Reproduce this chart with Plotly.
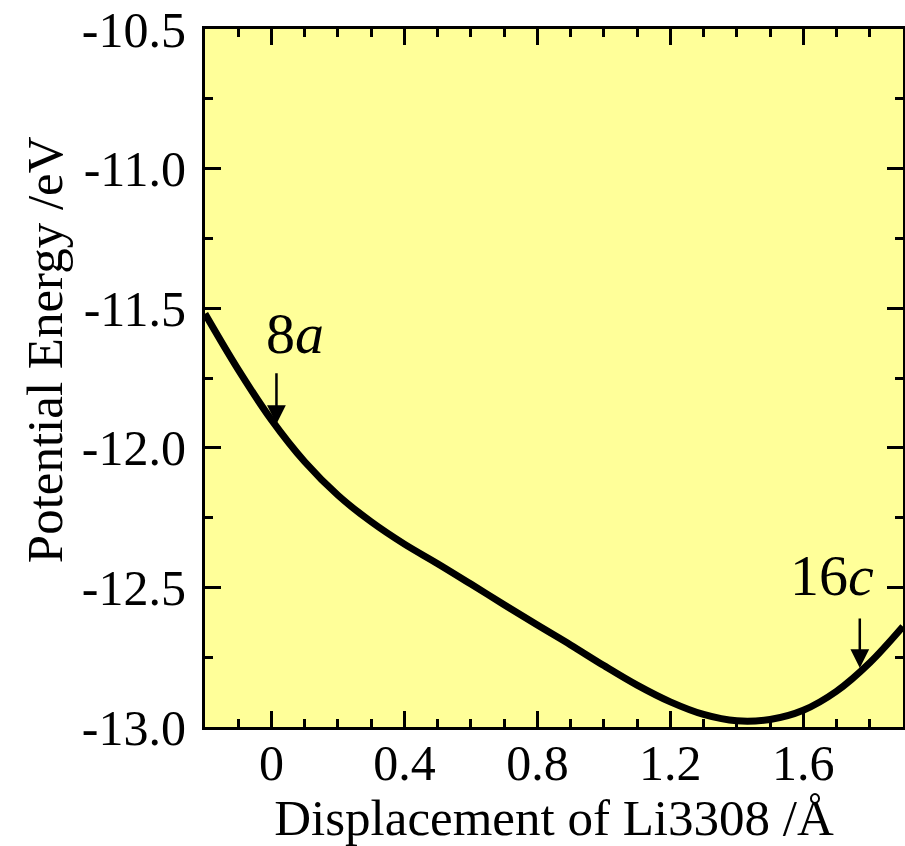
import plotly.graph_objects as go

# Data
displacement = [-0.2, -0.1, 0.0, 0.1, 0.2, 0.3, 0.4, 0.5, 0.6, 0.7, 0.8,
                0.9, 1.0, 1.1, 1.2, 1.3, 1.4, 1.5, 1.6, 1.7, 1.8, 1.9]
energy = [-11.52, -11.72, -11.90, -12.05, -12.17, -12.265, -12.345, -12.415, -12.488, -12.562, -12.635,
          -12.706, -12.78, -12.85, -12.91, -12.955, -12.978, -12.973, -12.940, -12.872, -12.770, -12.64]

x_tickvals = [0, 0.4, 0.8, 1.2, 1.6]
x_ticktext = ["0", "0.4", "0.8", "1.2", "1.6"]
y_tickvals = [-13.0, -12.5, -12.0, -11.5, -11.0, -10.5]
y_ticktext = ["-13.0", "-12.5", "-12.0", "-11.5", "-11.0", "-10.5"]

site_labels = ["8<i>a</i>", "16<i>c</i>"]
site_text_x = [0.072, 1.686]
site_text_y = [-11.592, -12.456]
arrow_tip_x = [0.015, 1.770]
arrow_tip_y = [-11.915, -12.789]
arrow_tail_y = [-11.728, -12.606]

FONT = "Times New Roman, Liberation Serif, serif"

fig = go.Figure()
fig.add_trace(go.Scatter(
    x=displacement, y=energy, mode="lines",
    line=dict(color="black", width=7, shape="spline", smoothing=1.0),
    showlegend=False, hoverinfo="skip"))

for lab, tx, ty in zip(site_labels, site_text_x, site_text_y):
    fig.add_annotation(x=tx, y=ty, text=lab, showarrow=False,
                       font=dict(family=FONT, size=58, color="black"),
                       xanchor="center", yanchor="middle")

for x0, y0, y1 in zip(arrow_tip_x, arrow_tip_y, arrow_tail_y):
    fig.add_annotation(x=x0, y=y0, ax=x0, ay=y1, axref="x", ayref="y",
                       text="", showarrow=True, arrowhead=2, arrowsize=1.5,
                       arrowwidth=2.5, arrowcolor="black")

# y-axis title (placed as rotated text to match the reference's position)
fig.add_annotation(xref="paper", yref="paper", x=-0.229, y=0.54,
                   text="Potential Energy /eV", textangle=-90, showarrow=False,
                   font=dict(family=FONT, size=51, color="black"),
                   xanchor="center", yanchor="middle")

axis_common = dict(
    showline=True, linecolor="black", linewidth=3, mirror="allticks",
    ticks="inside", ticklen=16, tickwidth=3, tickcolor="black",
    showgrid=False, zeroline=False,
    tickfont=dict(family=FONT, size=50, color="black"),
)

fig.update_xaxes(
    range=[-0.2, 1.9], tickmode="array", tickvals=x_tickvals, ticktext=x_ticktext,
    minor=dict(ticks="inside", ticklen=8, tickwidth=3, tickcolor="black", dtick=0.1, tick0=0, showgrid=False),
    title=dict(text="Displacement of Li3308 /Å", font=dict(family=FONT, size=51, color="black"), standoff=4),
    ticklabelstandoff=-10,
    **axis_common)
fig.update_yaxes(
    range=[-13.0, -10.5], tickmode="array", tickvals=y_tickvals, ticktext=y_ticktext,
    minor=dict(ticks="inside", ticklen=8, tickwidth=3, tickcolor="black", dtick=0.25, tick0=-13, showgrid=False),
    ticklabelstandoff=6,
    **axis_common)

fig.update_layout(
    width=905, height=846,
    margin=dict(l=205, r=2, t=29, b=119, autoexpand=False),
    paper_bgcolor="white", plot_bgcolor="#FFFF99",
)

fig.write_html("out.html")
